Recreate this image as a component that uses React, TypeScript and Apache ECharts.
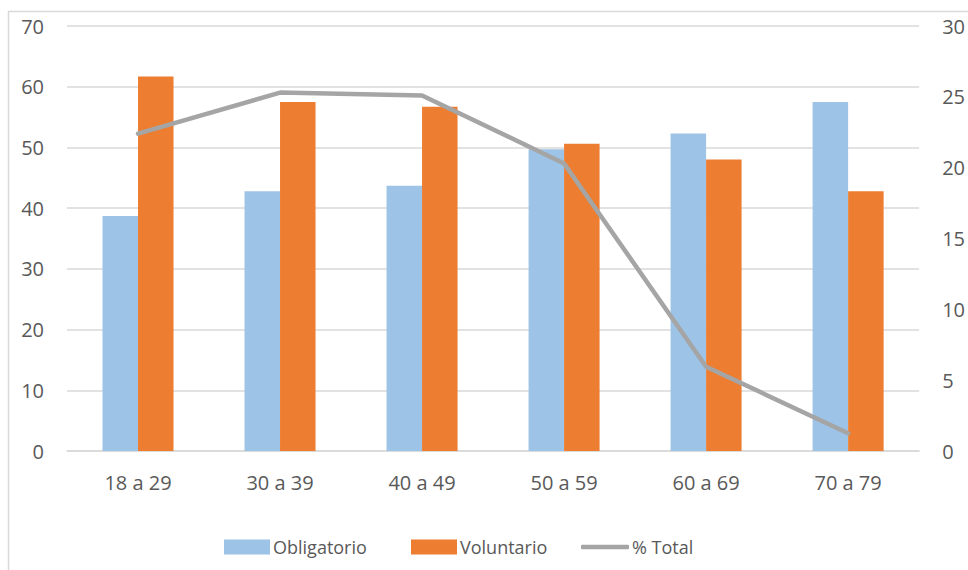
import React, { useEffect, useRef } from "react";
import * as echarts from "echarts";

const categories = ["18 a 29", "30 a 39", "40 a 49", "50 a 59", "60 a 69", "70 a 79"];
const obligatorio = [38.7, 42.8, 43.7, 49.7, 52.3, 57.5];
const voluntario = [61.7, 57.5, 56.7, 50.6, 48.0, 42.8];
const pctTotal = [22.4, 25.3, 25.1, 20.3, 5.95, 1.25];

const FONT = "'Open Sans', 'Noto Sans', sans-serif";
const TXT = "#595959";

export default function App() {
  const ref = useRef<HTMLDivElement>(null);
  useEffect(() => {
    if (!ref.current) return;
    const chart = echarts.init(ref.current, undefined, { renderer: "svg" });
    const legendText = { color: TXT, fontSize: 18, fontFamily: FONT, padding: [0, 0, 0, -2] };
    chart.setOption({
      animation: false,
      textStyle: { fontFamily: FONT },
      graphic: [
        {
          type: "rect",
          shape: { x: 8.5, y: 11.5, width: 1000, height: 600 },
          style: { fill: "none", stroke: "#D9D9D9", lineWidth: 1.5 },
          silent: true,
        },
      ],
      grid: { left: 67, right: 41, top: 26, bottom: 119 },
      legend: [
        {
          left: 219,
          top: 533,
          itemWidth: 46,
          itemHeight: 15,
          textStyle: legendText,
          data: [{ name: "Obligatorio", icon: "rect" }],
        },
        {
          left: 406,
          top: 533,
          itemWidth: 46,
          itemHeight: 15,
          textStyle: legendText,
          data: [{ name: "Voluntario", icon: "rect" }],
        },
        {
          left: 576,
          top: 533,
          itemWidth: 48,
          itemHeight: 4.5,
          textStyle: legendText,
          itemStyle: { borderWidth: 0, color: "#A5A5A5" },
          data: [{ name: "% Total", icon: "roundRect" }],
        },
      ],
      xAxis: {
        type: "category",
        data: categories,
        axisLine: { lineStyle: { color: "#D9D9D9", width: 1.5 } },
        axisTick: { show: false },
        axisLabel: { color: TXT, fontSize: 20, margin: 21, fontFamily: FONT },
      },
      yAxis: [
        {
          type: "value",
          min: 0,
          max: 70,
          interval: 10,
          axisLine: { show: false },
          axisTick: { show: false },
          axisLabel: { color: TXT, fontSize: 20, margin: 23, fontFamily: FONT },
          splitLine: { lineStyle: { color: "#D9D9D9", width: 1.5 } },
        },
        {
          type: "value",
          min: 0,
          max: 30,
          interval: 5,
          axisLine: { show: false },
          axisTick: { show: false },
          axisLabel: { color: TXT, fontSize: 20, margin: 23, align: "left", fontFamily: FONT },
          splitLine: { show: false },
        },
      ],
      series: [
        {
          name: "Obligatorio",
          type: "bar",
          data: obligatorio,
          itemStyle: { color: "#9DC3E6" },
          barGap: "0%",
          barCategoryGap: "50%",
        },
        {
          name: "Voluntario",
          type: "bar",
          data: voluntario,
          itemStyle: { color: "#ED7D31" },
          barGap: "0%",
          barCategoryGap: "50%",
        },
        {
          name: "% Total",
          type: "line",
          yAxisIndex: 1,
          data: pctTotal,
          symbol: "none",
          lineStyle: { color: "#A5A5A5", width: 4.5, cap: "round", join: "round" },
          itemStyle: { color: "#A5A5A5" },
          z: 5,
        },
      ],
    });
    return () => chart.dispose();
  }, []);
  return (
    <div
      ref={ref}
      style={{ position: "fixed", left: 0, top: 0, width: 968, height: 570, background: "#fff" }}
    />
  );
}
